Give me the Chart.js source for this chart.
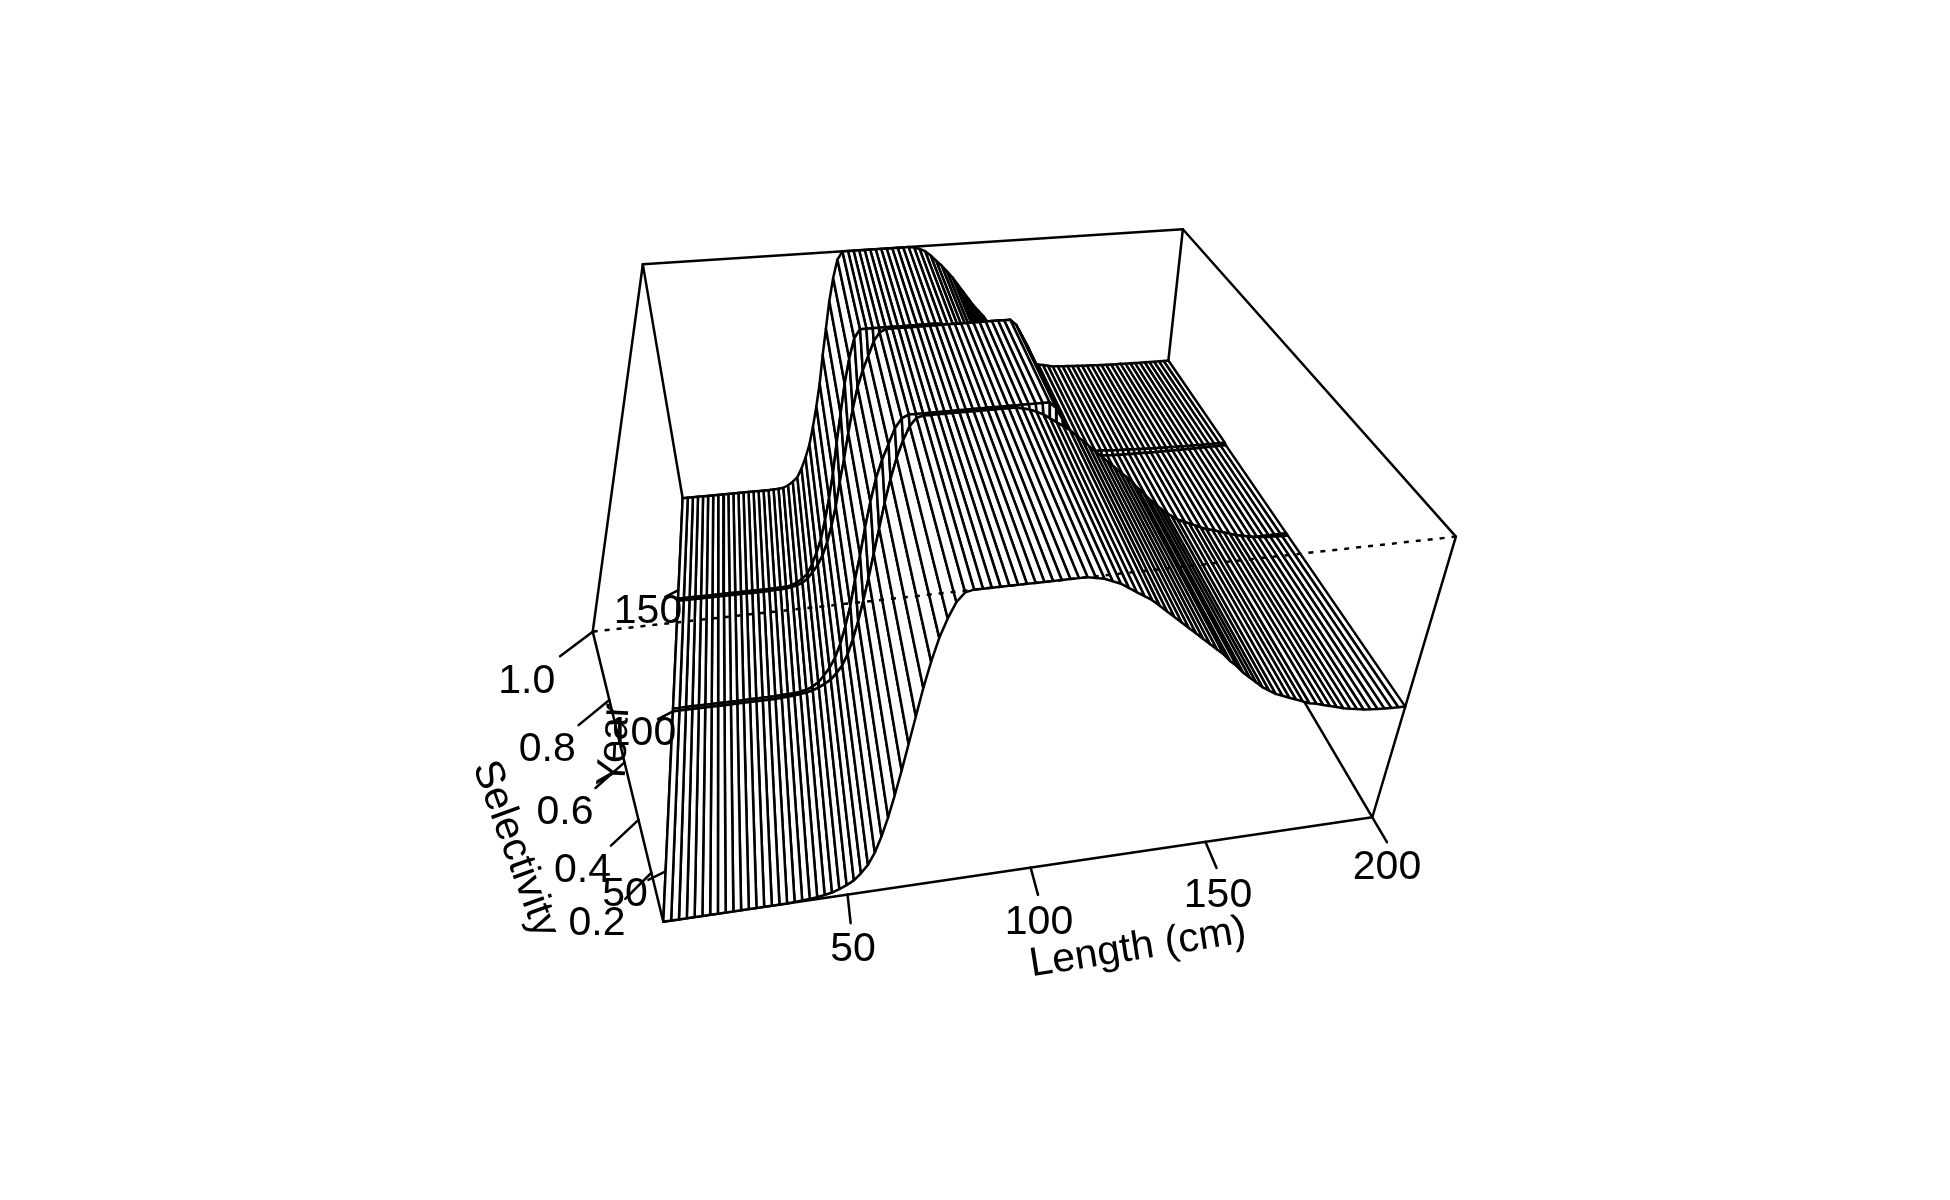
<!DOCTYPE html>
<html>
<head>
<meta charset="utf-8">
<title>Selectivity</title>
<style>
html, body { margin: 0; padding: 0; background: #fff; }
canvas { display: block; }
</style>
<script src="https://cdn.jsdelivr.net/npm/chart.js@4/dist/chart.umd.min.js"></script>
</head>
<body>
<canvas id="persp" width="1950" height="1200" style="width:1950px;height:1200px"></canvas>
<script>
var lengthBins = [
    2,4,6,8,10,12,14,16,18,20,
    22,24,26,28,30,32,34,36,38,40,
    42,44,46,48,50,52,54,56,58,60,
    62,64,66,68,70,72,74,76,78,80,
    82,84,86,88,90,92,94,96,98,100,
    102,104,106,108,110,112,114,116,118,120,
    122,124,126,128,130,132,134,136,138,140,
    142,144,146,148,150,152,154,156,158,160,
    162,164,166,168,170,172,174,176,178,180,
    182,184,186,188,190,192,194,196,198,200
];
var yearRows = [37, 100, 101, 145, 146, 198];

var earlySelectivity = [
    0,0,0,0,0,0,0,0,0,0,
    0,0,0,0,0,0,0,.002,.003,.005,
    .008,.012,.018,.028,.04,.055,.08,.11,.155,.215,
    .285,.365,.45,.54,.63,.72,.8,.87,.925,.97,
    .995,1,1,1,1,1,1,1,1,1,
    1,1,1,1,1,.995,.99,.98,.97,.955,
    .94,.925,.91,.89,.87,.85,.83,.81,.79,.77,
    .75,.73,.71,.685,.665,.64,.62,.6,.58,.565,
    .55,.54,.53,.52,.51,.5,.495,.487,.48,.473,
    .465,.46,.455,.45,.447,.445,.443,.442,.441,.44
];
var middleSelectivity = [
    0,0,0,0,0,0,0,0,0,0,
    0,0,0,0,0,0,0,.002,.002,.003,
    .007,.012,.022,.038,.065,.095,.135,.19,.26,.34,
    .44,.53,.63,.72,.8,.86,.91,.96,.99,1,
    1,1,1,1,1,1,1,1,1,1,
    1,1,1,1,1,1,1,1,1,1,
    .98,.94,.9,.85,.8,.76,.72,.68,.64,.6,
    .56,.53,.5,.48,.465,.455,.447,.445,.444,.443,
    .442,.442,.441,.441,.441,.44,.44,.44,.44,.44,
    .44,.44,.44,.44,.44,.44,.44,.44,.44,.44
];
var lateSelectivity = [
    0,0,0,0,0,0,0,0,0,0,
    0,0,0,0,0,0,0,0,.001,.002,
    .005,.015,.03,.05,.09,.14,.2,.28,.37,.47,
    .59,.7,.81,.9,.97,1,1,1,1,1,
    1,1,1,1,1,1,1,1,.997,.99,
    .98,.962,.94,.92,.895,.87,.84,.81,.78,.75,
    .725,.7,.67,.64,.61,.58,.56,.54,.52,.505,
    .49,.48,.475,.47,.465,.46,.46,.458,.457,.455,
    .454,.453,.452,.451,.45,.449,.448,.448,.447,.447,
    .446,.446,.445,.445,.445,.444,.444,.444,.444,.444
];
// one curve per row of yearRows
var rowCurves = [earlySelectivity, earlySelectivity, middleSelectivity, middleSelectivity, lateSelectivity, lateSelectivity];

var lengthTicks = [50, 100, 150, 200];
var yearTicks = [50, 100, 150];
var selectivityTicks = [0.2, 0.4, 0.6, 0.8, 1.0];

// perspective of the box, coefficients of 1,u,v,w
var viewX = [663.3, 842.4, 384.6, -182];
var viewY = [921.7, -25, -156.8, -408.8];
var viewD = [1, .0972, .535, -.188];
var lineW = 2.5;

function dot(c, u, v, w) { return c[0] + c[1]*u + c[2]*v + c[3]*w; }
function project(u, v, w) {
    var d = dot(viewD, u, v, w);
    return {x: dot(viewX, u, v, w) / d, y: dot(viewY, u, v, w) / d};
}
function toU(len) { return (len - 2) / 198; }
function toV(yr) { return (yr - 37) / 161; }

function edge(a, b, dash) {
    return {
        data: [project(a[0], a[1], a[2]), project(b[0], b[1], b[2])],
        showLine: true, fill: false, pointRadius: 0, borderColor: "#000",
        borderWidth: lineW, borderDash: dash || [], borderCapStyle: dash ? "butt" : "round"
    };
}

var datasets = [];

// box edges behind the surface
var boxEdges = [
    [[0,0,0],[1,0,0]], [[1,0,0],[1,1,0]], [[0,0,0],[0,1,0]], [[0,1,0],[1,1,0]],
    [[0,0,0],[0,0,1]], [[1,0,0],[1,0,1]], [[0,1,0],[0,1,1]], [[1,1,0],[1,1,1]],
    [[0,0,1],[0,1,1]], [[1,0,1],[1,1,1]], [[0,1,1],[1,1,1]]
];
boxEdges.forEach(function(e) { datasets.push(edge(e[0], e[1])); });

// ticks
lengthTicks.forEach(function(t) { datasets.push(edge([toU(t),0,0], [toU(t),-.045,0])); });
yearTicks.forEach(function(t) { datasets.push(edge([0,toV(t),0], [-.025,toV(t),-.025])); });
selectivityTicks.forEach(function(t) { datasets.push(edge([0,0,t], [-.03,-.034,t])); });

// surface quads, far ones first like persp does
var quads = [];
for (var r = 0; r < yearRows.length - 1; r++) {
    for (var c = 0; c < lengthBins.length - 1; c++) {
        var u0 = toU(lengthBins[c]), u1 = toU(lengthBins[c+1]);
        var v0 = toV(yearRows[r]), v1 = toV(yearRows[r+1]);
        var z00 = rowCurves[r][c], z10 = rowCurves[r][c+1], z01 = rowCurves[r+1][c], z11 = rowCurves[r+1][c+1];
        quads.push({
            depth: dot(viewD, (u0+u1)/2, (v0+v1)/2, (z00+z10+z01+z11)/4),
            pts: [project(u0,v0,z00), project(u1,v0,z10), project(u1,v1,z11), project(u0,v1,z01), project(u0,v0,z00)]
        });
    }
}
quads.sort(function(a, b) { return b.depth - a.depth; });
quads.forEach(function(q) {
    datasets.push({
        data: q.pts, showLine: true, fill: "shape", backgroundColor: "#fff",
        borderColor: "#000", borderWidth: lineW, pointRadius: 0, borderJoinStyle: "round"
    });
});

// dotted front edge on top
datasets.push(edge([0,0,1], [1,0,1], [5,7]));

// first dataset must be painted first, chart.js paints high order first
datasets.forEach(function(d, i) { d.order = datasets.length - i; d.clip = false; });

// texts: [string, x, y, angle in degrees]
var txtSize = 41;
var textItems = [
    ["50", 853, 949.5, 0], ["100", 1039, 922.5, 0], ["150", 1218, 896, 0], ["200", 1387, 868, 0],
    ["150", 648, 612, 0], ["100", 642, 734, 0], ["50", 625, 895, 0],
    ["1.0", 526.7, 682, 0], ["0.8", 547.3, 750, 0], ["0.6", 565, 813, 0], ["0.4", 582.5, 871, 0], ["0.2", 597, 924, 0],
    ["Length (cm)", 1138, 948, -9],
    ["Year", 615, 745, -87],
    ["Selectivity", 515, 849, 70]
];

var textPlugin = {
    id: "perspText",
    afterDraw: function(chart) {
        var ctx = chart.ctx;
        ctx.save();
        ctx.fillStyle = "#000";
        ctx.textAlign = "center";
        ctx.textBaseline = "middle";
        ctx.font = txtSize + "px 'Liberation Sans'";
        textItems.forEach(function(t) {
            ctx.save();
            ctx.translate(t[1], t[2]);
            ctx.rotate(t[3] * Math.PI / 180);
            ctx.fillText(t[0], 0, 0);
            ctx.restore();
        });
        ctx.restore();
    }
};

new Chart(document.getElementById("persp").getContext("2d"), {
    type: "scatter",
    data: {datasets: datasets},
    plugins: [textPlugin],
    options: {
        responsive: false,
        animation: false,
        devicePixelRatio: 1,
        layout: {padding: 0},
        plugins: {legend: {display: false}, title: {display: false}, tooltip: {enabled: false}},
        scales: {
            x: {type: "linear", min: 0, max: 1950, display: false},
            y: {type: "linear", min: 0, max: 1200, reverse: true, display: false}
        }
    }
});
</script>
</body>
</html>
